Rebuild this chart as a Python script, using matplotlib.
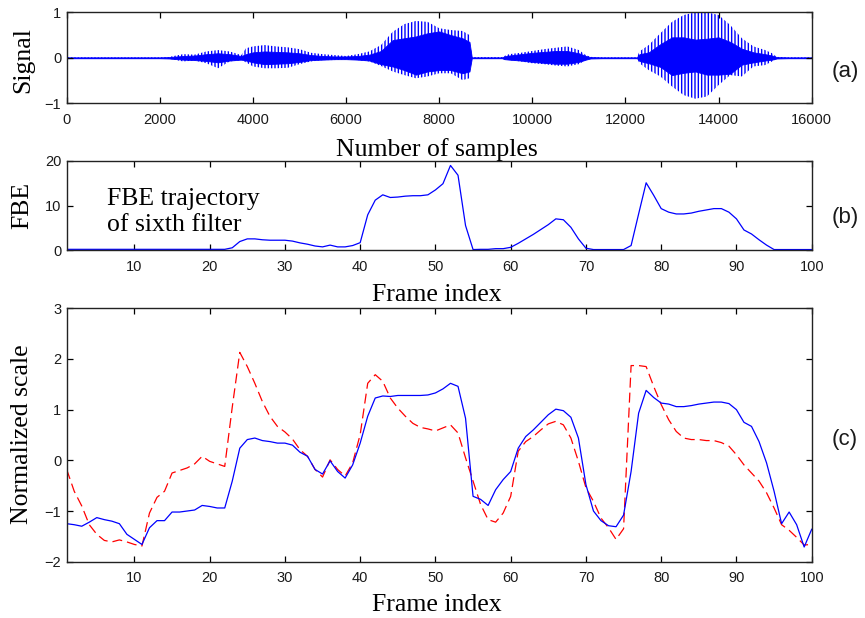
import numpy as np
import matplotlib
matplotlib.use("Agg")
import matplotlib.pyplot as plt

# ---------------- data ----------------
# Panel (a): speech waveform, read as envelopes (outer spike peaks and dense core)
sample_pos = [0, 1000, 2000, 2200, 2250, 2500, 2750, 3000, 3250, 3500, 3750, 3850,
              4000, 4250, 4500, 4750, 5000, 5250, 5500, 5750, 6000, 6250, 6500, 6750,
              7000, 7250, 7500, 7750, 8000, 8250, 8500, 8650, 8700, 9000, 9350, 9400,
              9500, 9750, 10000, 10250, 10500, 10750, 11000, 11150, 11250, 11500, 12000,
              12250, 12300, 12500, 12750, 13000, 13250, 13500, 13750, 14000, 14250,
              14500, 14750, 15000, 15150, 15250, 15500, 16000]
outer_hi = [0.01, 0.01, 0.01, 0.015, 0.03, 0.08, 0.07, 0.14, 0.17, 0.14, 0.06, 0.21,
            0.25, 0.28, 0.25, 0.23, 0.19, 0.11, 0.08, 0.06, 0.04, 0.08, 0.14, 0.28,
            0.57, 0.74, 0.81, 0.79, 0.65, 0.61, 0.59, 0.50, 0.015, 0.015, 0.015, 0.04,
            0.08, 0.11, 0.15, 0.19, 0.22, 0.25, 0.17, 0.06, 0.02, 0.01, 0.01,
            0.01, 0.14, 0.28, 0.54, 0.79, 0.94, 1.00, 1.00, 0.94, 0.72,
            0.43, 0.25, 0.17, 0.10, 0.02, 0.01, 0.01]
outer_lo = [-0.01, -0.01, -0.01, -0.015, -0.03, -0.08, -0.06, -0.12, -0.23, -0.08, -0.05, -0.10,
            -0.19, -0.23, -0.23, -0.22, -0.14, -0.08, -0.05, -0.05, -0.04, -0.05, -0.08, -0.18,
            -0.30, -0.38, -0.45, -0.41, -0.34, -0.34, -0.49, -0.45, -0.015, -0.015, -0.015, -0.04,
            -0.05, -0.08, -0.12, -0.14, -0.17, -0.19, -0.14, -0.05, -0.02, -0.01, -0.01,
            -0.01, -0.12, -0.27, -0.41, -0.63, -0.82, -0.90, -0.85, -0.60, -0.38,
            -0.41, -0.19, -0.16, -0.08, -0.02, -0.01, -0.01]
core_hi = [0.01, 0.01, 0.01, 0.015, 0.02, 0.04, 0.05, 0.08, 0.10, 0.08, 0.04, 0.08,
           0.12, 0.14, 0.13, 0.12, 0.10, 0.06, 0.04, 0.03, 0.03, 0.04, 0.07, 0.15,
           0.39, 0.43, 0.47, 0.54, 0.58, 0.50, 0.43, 0.35, 0.01, 0.01, 0.01, 0.03,
           0.05, 0.08, 0.11, 0.13, 0.15, 0.15, 0.10, 0.04, 0.015, 0.01, 0.01,
           0.01, 0.08, 0.12, 0.30, 0.45, 0.45, 0.40, 0.42, 0.45, 0.35,
           0.20, 0.12, 0.08, 0.05, 0.015, 0.01, 0.01]
core_lo = [-0.01, -0.01, -0.01, -0.015, -0.02, -0.04, -0.05, -0.07, -0.10, -0.06, -0.04, -0.06,
           -0.10, -0.14, -0.13, -0.12, -0.09, -0.05, -0.04, -0.03, -0.03, -0.04, -0.06, -0.14,
           -0.19, -0.27, -0.37, -0.30, -0.27, -0.27, -0.34, -0.30, -0.01, -0.01, -0.01, -0.03,
           -0.04, -0.06, -0.09, -0.11, -0.13, -0.13, -0.09, -0.04, -0.015, -0.01, -0.01,
           -0.01, -0.07, -0.12, -0.20, -0.38, -0.33, -0.30, -0.37, -0.37, -0.35,
           -0.15, -0.10, -0.06, -0.04, -0.015, -0.01, -0.01]

# Panel (b) and (c): frame index 1..100
frames = list(range(1, 101))
fbe = [0.15] * 22 + [
    0.5, 1.9, 2.5, 2.5, 2.3, 2.2, 2.2, 2.2, 2.0, 1.6,      # 23-32
    1.3, 0.9, 0.7, 1.1, 0.7, 0.7, 1.0, 1.65, 7.9, 11.2,     # 33-42
    12.4, 11.8, 11.9, 12.1, 12.2, 12.2, 12.4, 13.5, 14.9, 19.0,  # 43-52
    16.8, 5.5, 0.1, 0.15, 0.15, 0.3, 0.3, 0.6, 1.5, 2.5,    # 53-62
    3.5, 4.6, 5.7, 7.0, 6.8, 5.1, 2.5, 0.4, 0.1, 0.1,       # 63-72
    0.1, 0.1, 0.1, 1.0, 8.1, 15.1, 12.3, 9.3, 8.5, 8.1,     # 73-82
    8.1, 8.3, 8.7, 9.0, 9.3, 9.3, 8.5, 7.0, 4.5, 3.6,       # 83-92
    2.3, 1.1, 0.1, 0.1, 0.1, 0.1, 0.1, 0.1]                 # 93-100

norm_blue = [
    -1.25, -1.27, -1.30, -1.22, -1.13, -1.17, -1.20, -1.25, -1.46, -1.56,
    -1.66, -1.33, -1.19, -1.19, -1.02, -1.02, -1.00, -0.98, -0.89, -0.91,
    -0.94, -0.94, -0.41, 0.24, 0.41, 0.44, 0.39, 0.37, 0.34, 0.34,
    0.30, 0.16, 0.08, -0.18, -0.27, -0.01, -0.22, -0.35, -0.09, 0.34,
    0.87, 1.23, 1.27, 1.26, 1.28, 1.28, 1.28, 1.28, 1.29, 1.33,
    1.41, 1.52, 1.46, 0.83, -0.71, -0.77, -0.89, -0.58, -0.38, -0.22,
    0.24, 0.47, 0.60, 0.75, 0.90, 1.01, 0.98, 0.85, 0.44, -0.48,
    -1.00, -1.19, -1.29, -1.31, -1.08, -0.22, 0.93, 1.38, 1.24, 1.13,
    1.11, 1.06, 1.06, 1.08, 1.11, 1.13, 1.15, 1.15, 1.12, 1.00,
    0.75, 0.67, 0.37, -0.05, -0.61, -1.25, -1.02, -1.27, -1.71, -1.36]

norm_red = [
    -0.18, -0.61, -0.90, -1.27, -1.46, -1.58, -1.61, -1.57, -1.61, -1.66,
    -1.69, -1.04, -0.73, -0.61, -0.25, -0.20, -0.15, -0.07, 0.08, -0.02,
    -0.07, -0.12, 1.05, 2.13, 1.85, 1.52, 1.16, 0.87, 0.67, 0.56,
    0.42, 0.21, 0.08, -0.18, -0.33, 0.01, -0.18, -0.31, -0.05, 0.51,
    1.52, 1.69, 1.56, 1.23, 1.03, 0.87, 0.73, 0.65, 0.62, 0.58,
    0.64, 0.70, 0.54, 0.05, -0.41, -0.87, -1.17, -1.22, -1.04, -0.71,
    0.18, 0.37, 0.47, 0.60, 0.72, 0.77, 0.70, 0.44, -0.02, -0.54,
    -0.81, -1.14, -1.33, -1.56, -1.35, 1.87, 1.87, 1.85, 1.46, 1.10,
    0.80, 0.57, 0.44, 0.41, 0.41, 0.39, 0.39, 0.35, 0.28, 0.11,
    -0.09, -0.25, -0.41, -0.64, -0.94, -1.27, -1.38, -1.52, -1.67, -1.66]

xticks_a = list(range(0, 16001, 2000))
yticks_a = [-1, 0, 1]
xticks_frames = list(range(10, 101, 10))
yticks_b = [0, 10, 20]
yticks_c = [-2, -1, 0, 1, 2, 3]

# ---------------- style ----------------
W, H = 865, 618
SERIF = ["Liberation Serif", "DejaVu Serif"]
SANS = ["Liberation Sans", "DejaVu Sans"]
plt.rcParams["font.family"] = SANS
plt.rcParams["hatch.linewidth"] = 1.0
BLUE = "#0000ff"
RED = "#ff0000"

fig = plt.figure(figsize=(W / 100, H / 100), dpi=100)


def add_axes(left, top, right, bottom):
    return fig.add_axes([left / W, 1 - bottom / H, (right - left) / W, (bottom - top) / H])


def style(ax):
    ax.tick_params(direction="in", length=4.5, width=0.9, top=True, right=True,
                   labelsize=10.5, labelcolor="#1a1a1a")
    ax.tick_params(axis="x", pad=7)
    ax.tick_params(axis="y", pad=4)
    for s in ax.spines.values():
        s.set_linewidth(1.0)
        s.set_color("#222222")


def ftext(px, py, s, **kw):
    fig.text(px / W, 1 - py / H, s, **kw)


# (a)
axa = add_axes(66.7, 12.3, 811.7, 103.3)
axa.fill_between(sample_pos, outer_lo, outer_hi, facecolor="none", edgecolor=BLUE,
                 hatch="|||||", linewidth=0)
axa.fill_between(sample_pos, core_lo, core_hi, color=BLUE, linewidth=0.6)
axa.set_xlim(0, 16000)
axa.set_ylim(-1, 1)
axa.set_xticks(xticks_a)
axa.set_yticks(yticks_a)
style(axa)

# (b)
axb = add_axes(66.7, 161, 811.7, 250)
axb.plot(frames, fbe, color=BLUE, lw=0.9)
axb.set_xlim(1, 100)
axb.set_ylim(0, 20)
axb.set_xticks(xticks_frames)
axb.set_yticks(yticks_b)
style(axb)

# (c)
axc = add_axes(66.7, 308.3, 811.7, 561.7)
axc.plot(frames, norm_red, color=RED, lw=0.9, linestyle=(0, (8, 4)))
axc.plot(frames, norm_blue, color=BLUE, lw=0.9)
axc.set_xlim(1, 100)
axc.set_ylim(-2, 3)
axc.set_xticks(xticks_frames)
axc.set_yticks(yticks_c)
style(axc)

LBL = dict(family=SERIF, fontsize=18.5, color="black")
ftext(437, 150, "Number of samples", ha="center", va="center", **LBL)
ftext(437, 295, "Frame index", ha="center", va="center", **LBL)
ftext(437, 605, "Frame index", ha="center", va="center", **LBL)
ftext(23, 60, "Signal", ha="center", va="center", rotation=90, **LBL)
ftext(22, 205, "FBE", ha="center", va="center", rotation=90, **LBL)
ftext(22, 434, "Normalized scale", ha="center", va="center", rotation=90, **LBL)
ftext(107, 212, "FBE trajectory\nof sixth filter", ha="left", va="center",
      linespacing=1.25, **LBL)

PL = dict(family=SANS, fontsize=16, color="#1a1a1a", ha="center", va="center")
ftext(845, 71, "(a)", **PL)
ftext(845, 217, "(b)", **PL)
ftext(845, 440, "(c)", **PL)

fig.savefig("out.png", dpi=100)
